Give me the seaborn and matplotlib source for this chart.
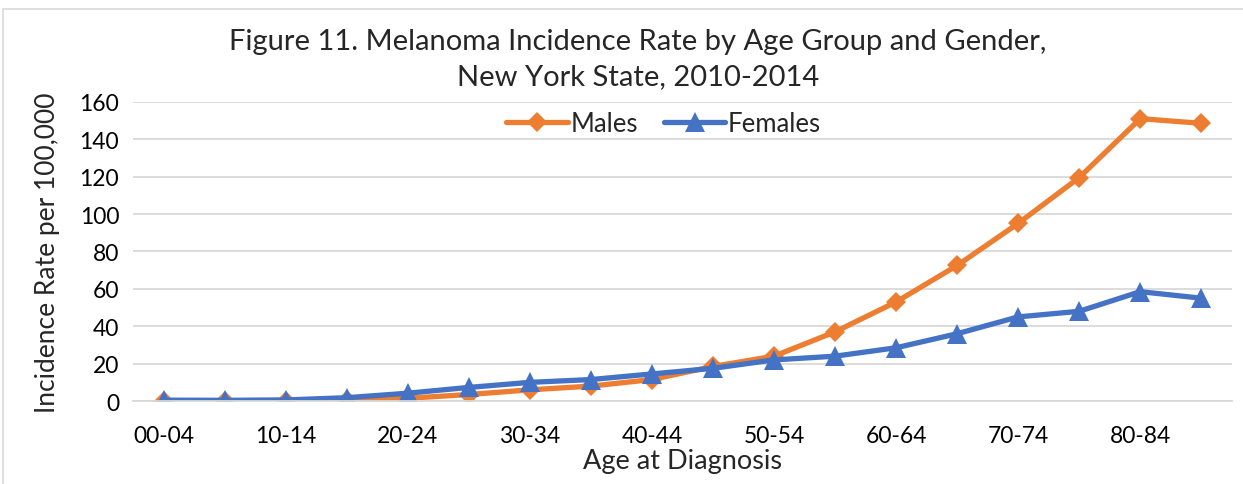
import numpy as np
import pandas as pd
import matplotlib
matplotlib.use("Agg")
import matplotlib.pyplot as plt
from matplotlib.patches import Rectangle
import seaborn as sns

# Data
age_groups = ['00-04', '05-09', '10-14', '15-19', '20-24', '25-29', '30-34', '35-39', '40-44',
              '45-49', '50-54', '55-59', '60-64', '65-69', '70-74', '75-79', '80-84', '85+']
males = [0.1, 0.2, 0.3, 0.4, 1.5, 3.5, 6.0, 8.0, 11.5, 18.5, 24.0, 37.0, 53.0, 72.5, 95.0, 119.5, 151.0, 148.5]
females = [0.5, 0.4, 0.6, 1.8, 4.2, 7.3, 10.0, 11.5, 14.5, 17.5, 22.0, 24.0, 28.5, 36.0, 45.0, 48.0, 58.5, 55.0]

df = pd.DataFrame({
    'age': age_groups * 2,
    'rate': males + females,
    'sex': ['Males'] * len(age_groups) + ['Females'] * len(age_groups),
})
df['age'] = pd.Categorical(df['age'], categories=age_groups, ordered=True)

sns.set_theme(style='white')
plt.rcParams['font.family'] = ['Lato', 'DejaVu Sans']

fig = plt.figure(figsize=(12.43, 4.85), dpi=100)
ax = fig.add_axes([0.107, 0.171, 0.884, 0.617])

palette = {'Males': '#ED7D31', 'Females': '#4472C4'}
sns.lineplot(data=df, x='age', y='rate', hue='sex', style='sex', palette=palette,
             markers={'Males': 'D', 'Females': '^'}, dashes=False, sort=False,
             linewidth=3.8, markersize=11, markeredgewidth=0, ax=ax)

# marker sizes differ per series
for line in ax.get_lines():
    if line.get_marker() == 'D':
        line.set_markersize(10)
    elif line.get_marker() == '^':
        line.set_markersize(14)

ax.set_xlim(-0.5, len(age_groups) - 0.5)
ax.set_ylim(0, 160)
ax.set_yticks(np.arange(0, 161, 20))
ax.yaxis.grid(True, color='#d9d9d9', linewidth=1.3)
ax.set_axisbelow(True)

ax.set_xticks(range(0, len(age_groups), 2))
ax.set_xticklabels(age_groups[::2])
ax.set_xticks(np.arange(-0.5, len(age_groups), 1), minor=True)
ax.tick_params(axis='x', which='major', length=0, pad=17, labelsize=16.5, colors='black')
ax.tick_params(axis='x', which='minor', length=7, width=1.3, color='#d9d9d9', direction='out')
ax.tick_params(axis='y', length=0, pad=10, labelsize=16.5, colors='black')

for side in ['top', 'right', 'left']:
    ax.spines[side].set_visible(False)
ax.spines['bottom'].set_color('#d9d9d9')
ax.spines['bottom'].set_linewidth(1.3)

ax.set_xlabel('Age at Diagnosis', fontsize=19.5, labelpad=2)
ax.set_ylabel('Incidence Rate per 100,000', fontsize=19, labelpad=14)

fig.suptitle('Figure 11. Melanoma Incidence Rate by Age Group and Gender,\nNew York State, 2010-2014',
             fontsize=21, y=1 - 29 / 485, x=0.513, va='top', linespacing=1.45)

handles, labels = ax.get_legend_handles_labels()
for h in handles:
    if h.get_marker() == 'D':
        h.set_markersize(10)
    elif h.get_marker() == '^':
        h.set_markersize(14)
ax.legend(handles, labels, loc='center', bbox_to_anchor=(0.483, 0.926), ncol=2, frameon=False,
          fontsize=18.5, handlelength=2.4, handletextpad=0.1, columnspacing=1.0)

# light chart border, as in the source
fig.patches.append(Rectangle((3 / 1243, -0.1), 1.2, 1 - 10 / 485 + 0.1, transform=fig.transFigure,
                             fill=False, edgecolor='#d9d9d9', linewidth=1.2))

fig.savefig('out.png', dpi=100)
